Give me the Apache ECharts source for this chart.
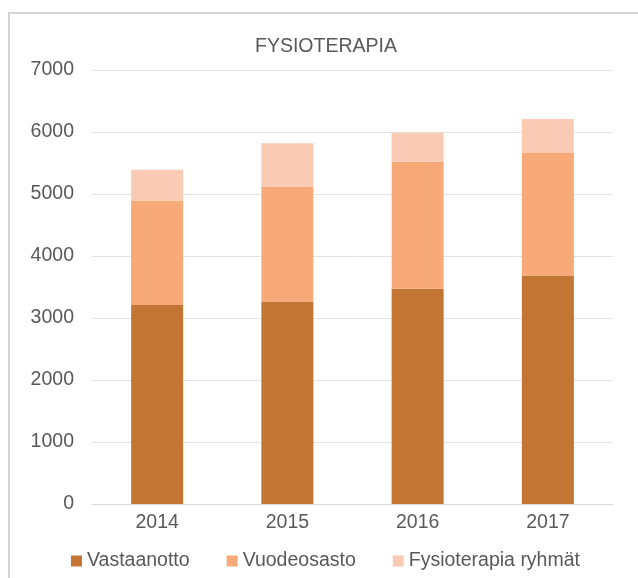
<!DOCTYPE html>
<html>
  <head>
    <meta charset="utf-8" />
    <script src="https://cdn.jsdelivr.net/npm/echarts@6/dist/echarts.min.js"></script>
    <title>FYSIOTERAPIA</title>
    <style>
      html, body { margin: 0; padding: 0; background: #fff; }
      #chart { width: 638px; height: 578px; }
    </style>
  </head>
  <body>
    <div id="chart"></div>
    <script>
      // vuodet ja sarjat
      var years = ['2014', '2015', '2016', '2017']
      var vastaanotto = [3210, 3265, 3470, 3685]
      var vuodeosasto = [1685, 1855, 2050, 1975]
      var ryhmat = [495, 700, 470, 550]
      var yTicks = [0, 1000, 2000, 3000, 4000, 5000, 6000, 7000]

      var textColor = '#595959'
      var font = 'Liberation Sans'
      var fs = 19.5

      var chart = echarts.init(document.getElementById('chart'))
      var option = {
        animation: false,
        backgroundColor: '#fff',
        graphic: [
          {
            type: 'rect',
            shape: { x: 9, y: 13, width: 700, height: 700 },
            style: { fill: 'none', stroke: '#d4d4d4', lineWidth: 2 },
            silent: true
          }
        ],
        title: {
          text: 'FYSIOTERAPIA',
          left: 250,
          top: 32,
          textStyle: {
            fontFamily: font,
            fontSize: fs,
            fontWeight: 'normal',
            color: textColor
          }
        },
        legend: {
          left: 66,
          top: 546,
          itemWidth: 11,
          itemHeight: 11,
          itemGap: 37,
          icon: 'rect',
          textStyle: { fontFamily: font, fontSize: fs, color: textColor },
          data: ['Vastaanotto', 'Vuodeosasto', 'Fysioterapia ryhmät']
        },
        grid: { left: 92, right: 25, top: 70, bottom: 74 },
        xAxis: {
          type: 'category',
          data: years,
          axisTick: { show: false },
          axisLine: { lineStyle: { color: '#d9d9d9', width: 1 } },
          axisLabel: {
            margin: 9,
            fontFamily: font,
            fontSize: fs,
            color: textColor
          }
        },
        yAxis: {
          type: 'value',
          min: yTicks[0],
          max: yTicks[yTicks.length - 1],
          interval: 1000,
          axisLine: { show: false },
          axisTick: { show: false },
          splitLine: { lineStyle: { color: '#e3e3e3', width: 1 } },
          axisLabel: {
            margin: 18,
            fontFamily: font,
            fontSize: fs,
            color: textColor,
            formatter: function (v) { return String(v) }
          }
        },
        series: [
          {
            name: 'Vastaanotto',
            type: 'bar',
            stack: 'total',
            barWidth: 52,
            data: vastaanotto,
            itemStyle: { color: '#c37533' }
          },
          {
            name: 'Vuodeosasto',
            type: 'bar',
            stack: 'total',
            barWidth: 52,
            data: vuodeosasto,
            itemStyle: { color: '#f7aa78' }
          },
          {
            name: 'Fysioterapia ryhmät',
            type: 'bar',
            stack: 'total',
            barWidth: 52,
            data: ryhmat,
            itemStyle: { color: '#f9cbb4' }
          }
        ]
      }
      chart.setOption(option)
    </script>
  </body>
</html>
